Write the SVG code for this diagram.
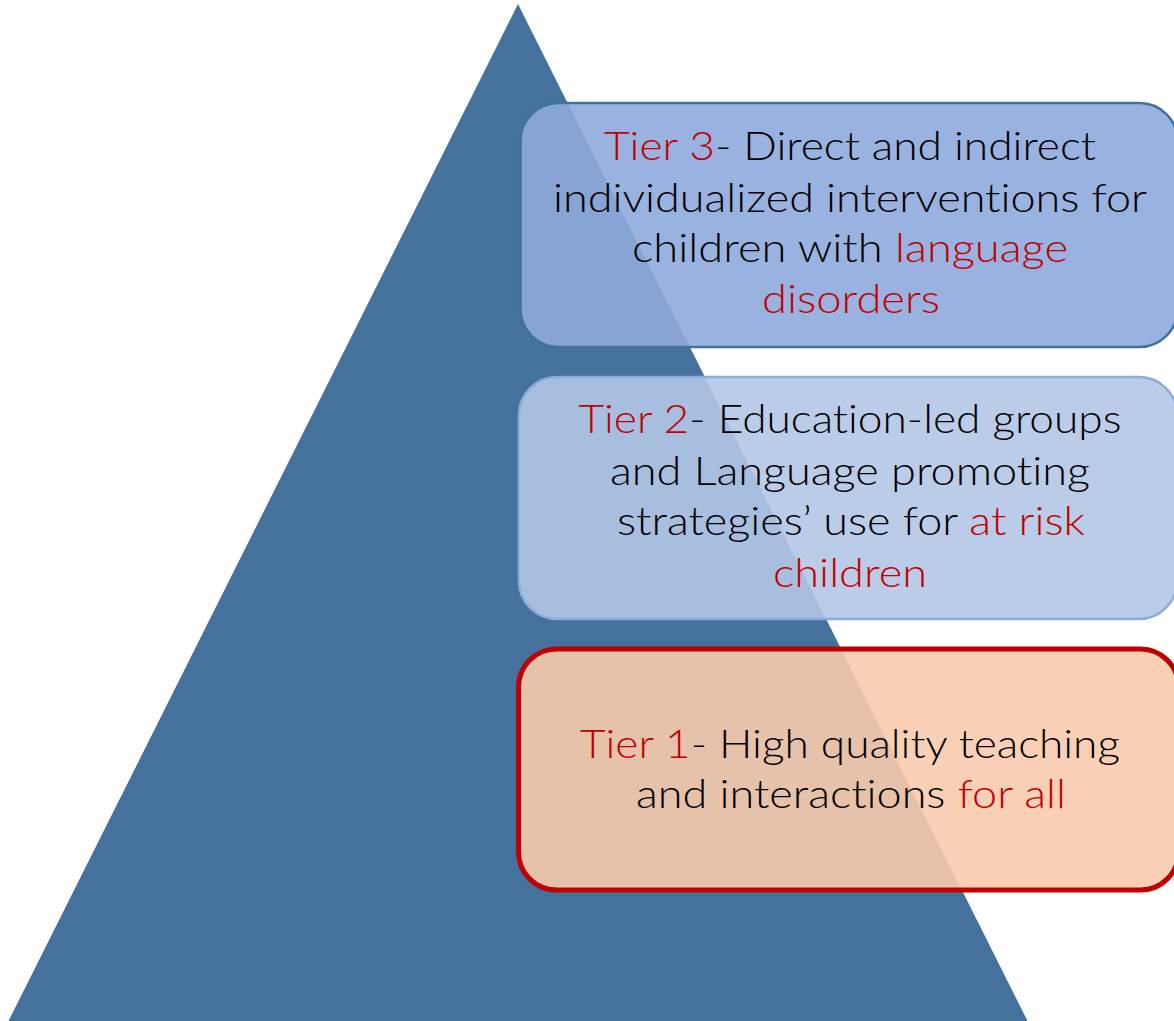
<svg xmlns="http://www.w3.org/2000/svg" width="1174" height="1021" viewBox="0 0 1174 1021">
<style>
.t{font-family:Lato,"Open Sans","Liberation Sans",sans-serif;font-weight:300;font-size:40px;text-anchor:middle;fill:#000;font-variant-ligatures:none;font-feature-settings:"liga" 0,"clig" 0}
.r{fill:#c00000}
</style>
<rect x="0" y="0" width="1174" height="1021" fill="#fff"/>
<g id="pyramid"><polygon points="518,4 1029,1024 7,1024" fill="#44729d"/></g>
<g id="connectors"></g>
<g id="tier3">
<rect x="520.5" y="103" width="657" height="244" rx="38" fill="#8faadc" fill-opacity="0.9" stroke="#41719c" stroke-width="2.5"/>
<text class="t" x="850" y="160" textLength="492" lengthAdjust="spacingAndGlyphs"><tspan class="r">Tier 3</tspan>- Direct and indirect</text>
<text class="t" x="850" y="212" textLength="594" lengthAdjust="spacingAndGlyphs">individualized interventions for</text>
<text class="t" x="850" y="262" textLength="436" lengthAdjust="spacingAndGlyphs">children with <tspan class="r">language</tspan></text>
<text class="t r" x="851" y="313" textLength="178" lengthAdjust="spacingAndGlyphs">disorders</text>
</g>
<g id="tier2">
<rect x="519" y="377" width="658" height="242" rx="38" fill="#b4c7e7" fill-opacity="0.9" stroke="#8faadc" stroke-width="2.5"/>
<text class="t" x="850" y="433" textLength="543" lengthAdjust="spacingAndGlyphs"><tspan class="r">Tier 2</tspan>- Education-led groups</text>
<text class="t" x="850" y="485" textLength="480" lengthAdjust="spacingAndGlyphs">and Language promoting</text>
<text class="t" x="851" y="535" textLength="468" lengthAdjust="spacingAndGlyphs">strategies’ use for <tspan class="r">at risk</tspan></text>
<text class="t r" x="850" y="587" textLength="154" lengthAdjust="spacingAndGlyphs">children</text>
</g>
<g id="tier1">
<rect x="518.5" y="649" width="660" height="241" rx="38" fill="#f8cbad" fill-opacity="0.9" stroke="#c00000" stroke-width="5"/>
<text class="t" x="850" y="758" textLength="540" lengthAdjust="spacingAndGlyphs"><tspan class="r">Tier 1</tspan>- High quality teaching</text>
<text class="t" x="851" y="808" textLength="430" lengthAdjust="spacingAndGlyphs">and interactions <tspan class="r">for all</tspan></text>
</g>
</svg>
